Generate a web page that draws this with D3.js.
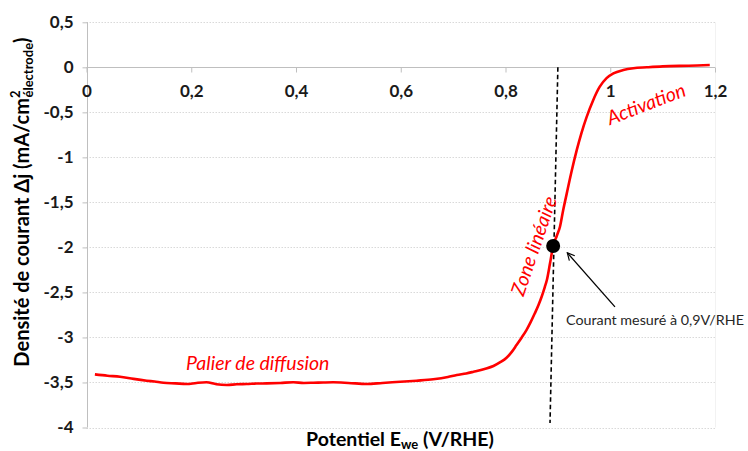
<!DOCTYPE html>
<html><head><meta charset="utf-8">
<script src="https://cdn.jsdelivr.net/npm/d3@7"></script>
<style>
html,body{margin:0;padding:0;background:#fff;}
svg{display:block;font-family:Lato,"Open Sans",sans-serif;}
</style></head>
<body><svg id="c" width="748" height="451"></svg>
<script>
// ---- data ----
const potentials = [0.016,0.040,0.064,0.090,0.115,0.130,0.147,0.170,0.191,0.210,0.229,0.248,0.268,0.287,0.306,0.325,0.344,0.370,0.395,0.415,0.433,0.452,0.471,0.500,0.535,0.565,0.599,0.630,0.662,0.690,0.707,0.725,0.739,0.760,0.777,0.790,0.802,0.812,0.821,0.831,0.840,0.848,0.856,0.863,0.869,0.875,0.879,0.885,0.891,0.898,0.904,0.910,0.917,0.926,0.936,0.945,0.955,0.967,0.980,0.993,1.006,1.025,1.044,1.070,1.100,1.150,1.190];
const currents   = [-3.41,-3.425,-3.436,-3.46,-3.48,-3.49,-3.503,-3.51,-3.517,-3.505,-3.498,-3.52,-3.528,-3.52,-3.517,-3.512,-3.51,-3.505,-3.498,-3.505,-3.503,-3.50,-3.498,-3.505,-3.517,-3.505,-3.492,-3.48,-3.465,-3.44,-3.417,-3.40,-3.381,-3.35,-3.317,-3.275,-3.225,-3.16,-3.085,-3.00,-2.918,-2.83,-2.732,-2.64,-2.548,-2.44,-2.362,-2.177,-1.985,-1.87,-1.77,-1.59,-1.40,-1.16,-0.92,-0.73,-0.55,-0.37,-0.215,-0.12,-0.067,-0.03,-0.01,0.0,0.01,0.018,0.025];
const xTicks = [0,0.2,0.4,0.6,0.8,1,1.2];
const xTickLabels = ["0","0,2","0,4","0,6","0,8","1","1,2"];
const yTicks = [0.5,0,-0.5,-1,-1.5,-2,-2.5,-3,-3.5,-4];
const yTickLabels = ["0,5","0","-0,5","-1","-1,5","-2","-2,5","-3","-3,5","-4"];
const measuredPoint = [0.891,-1.985];
const guideX = [0.9,0.885];
const guideY = [0,-3.95];
const arrowFrom = [1.009,-2.66];
const arrowTo = [0.918,-2.06];
const annotationText = "Courant mesuré à 0,9V/RHE";
const regionLabels = ["Palier de diffusion","Zone linéaire","Activation"];
const regionLabelPos = [[0.327,-3.28],[0.853,-1.98],[1.068,-0.40]];
const regionLabelAngle = [0,-71,-21];

// ---- layout ----
const svg = d3.select("#c");
const x = d3.scaleLinear().domain([0,1.2]).range([86.5,715]);
const y = d3.scaleLinear().domain([-4,0.5]).range([427.5,22.3]);

const defs = svg.append("defs");
defs.append("marker").attr("id","ah").attr("viewBox","0 0 10 10").attr("refX",9).attr("refY",5)
  .attr("markerWidth",9).attr("markerHeight",9).attr("markerUnits","userSpaceOnUse").attr("orient","auto")
  .append("path").attr("d","M1,1 L9,5 L1,9").attr("fill","none").attr("stroke","#000").attr("stroke-width",1.3);

// gridlines
svg.append("g").selectAll("line").data(yTicks.filter(d=>d!==0)).join("line")
  .attr("x1",x(0)).attr("x2",x(1.2)).attr("y1",d=>Math.round(y(d))+0.5).attr("y2",d=>Math.round(y(d))+0.5)
  .attr("stroke","#d9d9d9").attr("stroke-width",1).attr("stroke-dasharray","1.5,1.5");
// right border faint
svg.append("line").attr("x1",x(1.2)+0.5).attr("x2",x(1.2)+0.5).attr("y1",y(0.5)).attr("y2",y(-4))
  .attr("stroke","#f2f2f2");

const tickFont = 17;
// y axis
const yAxis = d3.axisLeft(y).tickValues(yTicks).tickFormat((d,i)=>yTickLabels[i]).tickSize(5).tickPadding(8);
const gy = svg.append("g").attr("transform",`translate(${Math.round(x(0))+0.5},0)`).call(yAxis);
gy.select(".domain").attr("stroke","#bfbfbf").attr("d",`M0,${y(0.5)}V${y(-4)}`);
gy.selectAll(".tick line").attr("stroke","#bfbfbf");
gy.selectAll(".tick text").attr("font-size",tickFont).attr("font-weight","bold").attr("fill","#1a1a1a")
  .attr("font-family","Lato,sans-serif").attr("x",-14);

// x axis at y=0
const xAxis = d3.axisBottom(x).tickValues(xTicks).tickFormat((d,i)=>xTickLabels[i]).tickSize(5).tickPadding(12);
const gx = svg.append("g").attr("transform",`translate(0,${Math.round(y(0))+0.5})`).call(xAxis);
gx.select(".domain").attr("stroke","#bfbfbf").attr("d",`M${x(0)},0H${x(1.2)}`);
gx.selectAll(".tick line").attr("stroke","#bfbfbf");
gx.selectAll(".tick text").attr("font-size",tickFont).attr("font-weight","bold").attr("fill","#1a1a1a")
  .attr("font-family","Lato,sans-serif");

// curve
const pts = potentials.map((p,i)=>[p,currents[i]]);
svg.append("path").datum(pts)
  .attr("d",d3.line().x(d=>x(d[0])).y(d=>y(d[1])).curve(d3.curveMonotoneX))
  .attr("fill","none").attr("stroke","#ff0000").attr("stroke-width",2.6).attr("stroke-linejoin","round");

// dashed guide
svg.append("line").attr("x1",x(guideX[0])).attr("y1",y(guideY[0])).attr("x2",x(guideX[1])).attr("y2",y(guideY[1]))
  .attr("stroke","#000").attr("stroke-width",1.6).attr("stroke-dasharray","4.5,3");

// point
svg.append("circle").attr("cx",x(measuredPoint[0])).attr("cy",y(measuredPoint[1])).attr("r",7).attr("fill","#000");

// arrow
svg.append("line").attr("x1",x(arrowFrom[0])).attr("y1",y(arrowFrom[1])).attr("x2",x(arrowTo[0])).attr("y2",y(arrowTo[1]))
  .attr("stroke","#000").attr("stroke-width",1.3).attr("marker-end","url(#ah)");
svg.append("text").attr("x",566).attr("y",325).attr("font-size",14.3).attr("fill","#262626")
  .attr("font-family","Lato,sans-serif").text(annotationText);

// region labels
regionLabels.forEach((t,i)=>{
  const px = x(regionLabelPos[i][0]), py = y(regionLabelPos[i][1]);
  svg.append("text").attr("transform",`translate(${px},${py}) rotate(${regionLabelAngle[i]})`)
    .attr("text-anchor","middle").attr("dominant-baseline","central")
    .attr("font-size",19.5).attr("font-style","italic").attr("fill","#ff0000")
    .attr("font-family","Lato,sans-serif").text(t);
});

// axis titles
const xt = svg.append("text").attr("x",400).attr("y",446).attr("text-anchor","middle")
  .attr("font-size",19.5).attr("font-weight","bold").attr("fill","#000").attr("font-family","Lato,sans-serif");
xt.append("tspan").text("Potentiel E");
xt.append("tspan").attr("font-size",13).attr("dy",2.5).text("we");
xt.append("tspan").attr("dy",-2.5).text(" (V/RHE)");

const yt = svg.append("text").attr("transform","translate(29,202) rotate(-90)").attr("text-anchor","middle")
  .attr("font-size",20).attr("font-weight","bold").attr("fill","#000").attr("font-family","Lato,sans-serif");
yt.append("tspan").text("Densité de courant Δj (mA/cm");
yt.append("tspan").attr("font-size",13).attr("dy",-9).text("2");
yt.append("tspan").attr("font-size",13).attr("dx",-7).attr("dy",13).text("électrode");
yt.append("tspan").attr("dy",-4).text(")");
</script></body></html>
